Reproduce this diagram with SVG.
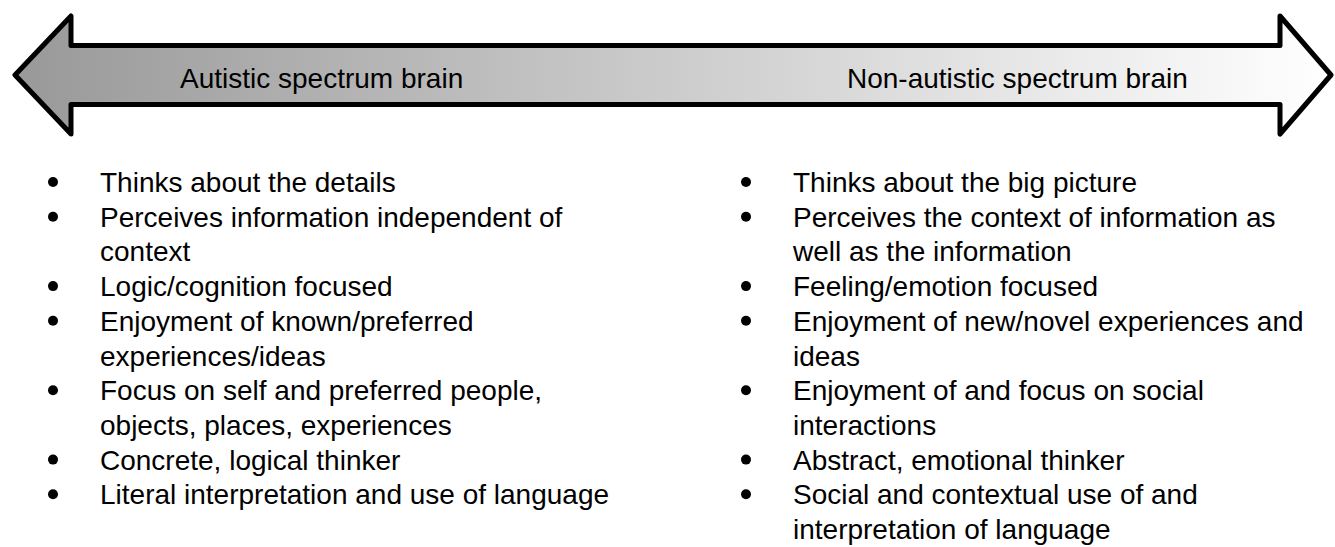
<svg xmlns="http://www.w3.org/2000/svg" width="1335" height="547" viewBox="0 0 1335 547">
  <defs>
    <linearGradient id="arrowFill" x1="15" y1="0" x2="1331" y2="0" gradientUnits="userSpaceOnUse">
      <stop offset="0" stop-color="#999999"/>
      <stop offset="1" stop-color="#ffffff"/>
    </linearGradient>
  </defs>
  <style>
    .t { font-family: "Liberation Sans", Arial, sans-serif; font-size: 28px; fill: #000; }
    .b { fill: #000; }
    .arrow { fill: url(#arrowFill); stroke: #000; stroke-width: 5; stroke-linejoin: round; }
  </style>
  <rect width="1335" height="547" fill="#ffffff"/>

  <g id="spectrum-arrow">
    <path class="arrow" d="M 15,75 L 71,16 L 71,45.5 L 1280,45.5 L 1280,16 L 1331,75 L 1280,134 L 1280,104.5 L 71,104.5 L 71,134 Z"/>
    <text class="t" x="180" y="88">Autistic spectrum brain</text>
    <text class="t" x="847" y="88">Non-autistic spectrum brain</text>
  </g>

  <g id="autistic-list">
    <circle class="b" cx="53" cy="182" r="5"/>
    <text class="t" x="100" y="192">Thinks about the details</text>
    <circle class="b" cx="53" cy="216.7" r="5"/>
    <text class="t" x="100" y="226.7">Perceives information independent of</text>
    <text class="t" x="100" y="261.4">context</text>
    <circle class="b" cx="53" cy="286.1" r="5"/>
    <text class="t" x="100" y="296.1">Logic/cognition focused</text>
    <circle class="b" cx="53" cy="320.8" r="5"/>
    <text class="t" x="100" y="330.8">Enjoyment of known/preferred</text>
    <text class="t" x="100" y="365.5">experiences/ideas</text>
    <circle class="b" cx="53" cy="390.2" r="5"/>
    <text class="t" x="100" y="400.2">Focus on self and preferred people,</text>
    <text class="t" x="100" y="434.9">objects, places, experiences</text>
    <circle class="b" cx="53" cy="459.6" r="5"/>
    <text class="t" x="100" y="469.6">Concrete, logical thinker</text>
    <circle class="b" cx="53" cy="494.3" r="5"/>
    <text class="t" x="100" y="504.3">Literal interpretation and use of language</text>
  </g>

  <g id="non-autistic-list">
    <circle class="b" cx="746" cy="182" r="5"/>
    <text class="t" x="793" y="192">Thinks about the big picture</text>
    <circle class="b" cx="746" cy="216.7" r="5"/>
    <text class="t" x="793" y="226.7">Perceives the context of information as</text>
    <text class="t" x="793" y="261.4">well as the information</text>
    <circle class="b" cx="746" cy="286.1" r="5"/>
    <text class="t" x="793" y="296.1">Feeling/emotion focused</text>
    <circle class="b" cx="746" cy="320.8" r="5"/>
    <text class="t" x="793" y="330.8">Enjoyment of new/novel experiences and</text>
    <text class="t" x="793" y="365.5">ideas</text>
    <circle class="b" cx="746" cy="390.2" r="5"/>
    <text class="t" x="793" y="400.2">Enjoyment of and focus on social</text>
    <text class="t" x="793" y="434.9">interactions</text>
    <circle class="b" cx="746" cy="459.6" r="5"/>
    <text class="t" x="793" y="469.6">Abstract, emotional thinker</text>
    <circle class="b" cx="746" cy="494.3" r="5"/>
    <text class="t" x="793" y="504.3">Social and contextual use of and</text>
    <text class="t" x="793" y="539">interpretation of language</text>
  </g>

  <g id="connectors"></g>
</svg>
